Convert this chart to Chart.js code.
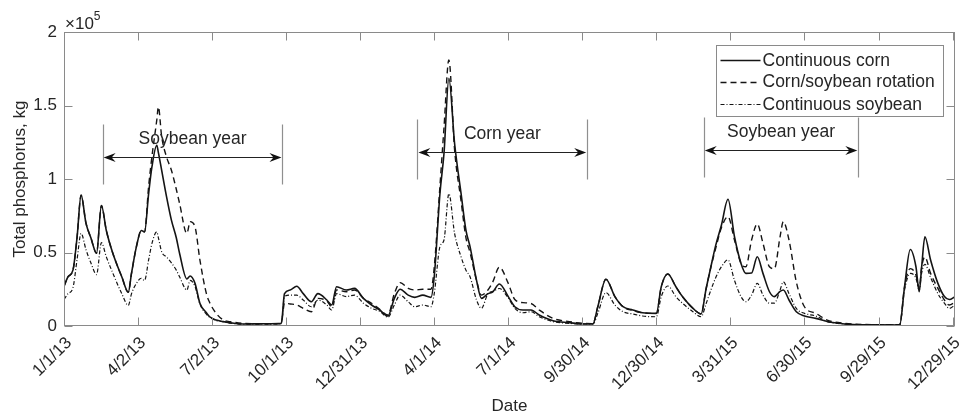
<!DOCTYPE html>
<html><head><meta charset="utf-8">
<script src="https://cdn.jsdelivr.net/npm/chart.js@4.4.1/dist/chart.umd.min.js"></script>
<style>html,body{margin:0;padding:0;background:#fff}</style>
</head><body>
<canvas id="c" width="959" height="420"></canvas>
<script>
// Days since 1/1/2013
const days = [0,5,11,16,21,27,33,40,46,52,60,71,79,83,89,95,99,104,108,114,116,120,126,132,138,142,151,155,161,167,175,179,187,196,204,220,249,267,271,278,286,294,304,312,323,329,335,347,357,368,378,388,398,406,413,423,431,441,451,455,462,467,473,480,488,494,499,507,513,521,527,535,546,554,564,574,584,601,621,638,650,656,666,677,687,699,711,728,734,742,752,760,773,783,789,795,801,808,816,824,832,838,845,852,859,867,873,880,884,891,900,910,924,938,959,984,1027,1033,1040,1047,1051,1054,1058,1065,1074,1082,1088,1095];
// Total phosphorus, kg
const continuousCorn = [27000,33500,38000,60000,89000,70000,60000,49500,82000,65000,49500,33500,23000,36000,54000,65000,64000,90000,108000,123000,118000,106000,88000,72000,60000,49500,32000,34000,29000,15500,9000,6300,4000,3000,2200,1400,1500,1800,22000,24500,27000,22000,16500,22000,17700,14300,26700,24500,25600,18800,14300,10900,6800,18800,25000,21000,19500,21000,19500,33500,90000,117500,168500,124300,90000,65000,54000,31000,18800,22000,23300,28600,20000,13100,10900,10900,7500,3600,2300,1400,1400,13100,31800,20000,13100,10900,9000,8600,26700,35400,26700,20000,12000,8200,25000,40300,55000,68700,86200,60700,42600,35800,36000,47100,35800,23300,20000,23500,24500,17700,9700,6800,5200,3000,1400,800,700,26700,52000,40300,23300,40000,60700,44900,29000,20000,18000,20000];
const cornSoybeanRotation = [27000,33500,38000,60000,89000,70000,60000,49500,82000,65000,49500,33500,23000,36000,54000,65000,64000,95000,115000,140000,149000,129000,115000,106000,93000,83500,63000,71000,67500,45000,22000,16000,8600,4000,3000,1800,1500,1800,15500,15000,14300,12000,9700,18800,17000,13100,24500,23300,24500,18800,15500,11300,7500,22000,29500,25600,24500,25000,25000,40000,95000,135000,181000,120000,85000,60000,50000,31000,21000,24500,30000,40000,29000,18000,15900,15300,10900,5200,3000,1800,1600,13100,31800,20000,13100,10500,9000,8600,26700,35400,26700,20000,12000,8200,25000,40000,53000,67000,74400,58500,42600,40300,58500,69400,56300,40300,39000,60700,71000,58500,30000,13100,8600,4000,1800,1000,800,26700,39000,34700,25600,40000,47000,35800,25600,17700,14300,16300];
const continuousSoybean = [18000,22000,26000,45000,63000,52000,43000,35000,56700,47000,36000,22000,14000,22000,29000,32500,31000,45000,56000,64000,60000,50500,47000,43000,38000,33500,24500,31000,27000,15000,8000,6000,3800,2800,2000,1200,1300,1600,20000,21000,21000,17700,13100,17700,14300,10900,22000,20000,21000,15500,12000,10000,6000,14300,21000,16500,13100,14300,13100,22000,54000,58500,90000,63000,47000,38000,33500,17700,12000,22000,23500,25500,19000,12000,9000,9700,6300,3000,1800,1400,1400,8600,22700,14300,9700,8200,6800,6300,20000,27200,20000,15500,9700,6300,15000,24500,33000,40300,45000,31000,20000,16500,21000,29000,21000,15500,15500,24500,30000,22000,12000,8600,6800,3000,1400,800,700,24500,35800,32500,24500,36000,42000,33000,22000,15500,12000,14300];

const seriesNames = ['Continuous corn', 'Corn/soybean rotation', 'Continuous soybean'];
const tickDays = [0,91,182,273,364,455,546,637,728,819,910,1001,1092];
const tickLabels = ['1/1/13','4/2/13','7/2/13','10/1/13','12/31/13','4/1/14','7/1/14','9/30/14','12/30/14','3/31/15','6/30/15','9/29/15','12/29/15'];
const yTickValues = [0,50000,100000,150000,200000];

// Crop-year brackets (start day, end day, arrow level in kg)
const periodLabels = ['Soybean year', 'Corn year', 'Soybean year'];
const periodStart = [47.5, 434.3, 786.2];
const periodEnd = [268.5, 643, 976.2];
const periodLevel = [115300, 118600, 119700];

const FONT = '"Liberation Sans", Arial, Helvetica, sans-serif';
const TXT = '#262626';
const AX = '#8a8a8a';
const LINE = '#141414';
const dashes = [[], [6, 4], [4, 2, 1, 2]];
const widths = [1.6, 1.4, 1.2];

function pts(vals) { return days.map((d, i) => ({x: d, y: vals[i]})); }

const decor = {
  id: 'decor',
  afterDatasetsDraw(chart) {
    const {ctx, chartArea: a, scales: {x, y}} = chart;
    ctx.save();
    // axes box
    ctx.strokeStyle = AX; ctx.lineWidth = 1;
    const L = Math.round(a.left) + 0.5, R = Math.round(a.right) - 0.5;
    const T = Math.round(a.top) + 0.5, B = Math.round(a.bottom) - 0.5;
    ctx.strokeRect(L, T, R - L, B - T);
    // inward ticks
    const tl = 8;
    ctx.beginPath();
    tickDays.forEach(d => {
      const px = Math.round(x.getPixelForValue(d)) + 0.5;
      ctx.moveTo(px, B); ctx.lineTo(px, B - tl);
      ctx.moveTo(px, T); ctx.lineTo(px, T + tl);
    });
    yTickValues.forEach(v => {
      const py = Math.round(y.getPixelForValue(v)) + 0.5;
      ctx.moveTo(L, py); ctx.lineTo(L + tl, py);
      ctx.moveTo(R, py); ctx.lineTo(R - tl, py);
    });
    ctx.stroke();

    // exponent label
    ctx.fillStyle = TXT;
    ctx.textAlign = 'left'; ctx.textBaseline = 'alphabetic';
    ctx.font = '17px ' + FONT;
    ctx.fillText('\u00d710', a.left + 1, a.top - 3);
    const w10 = ctx.measureText('\u00d710').width;
    ctx.font = '12px ' + FONT;
    ctx.fillText('5', a.left + 1 + w10, a.top - 12);

    // crop-year brackets
    periodLabels.forEach((lab, i) => {
      const xl = x.getPixelForValue(periodStart[i]);
      const xr = x.getPixelForValue(periodEnd[i]);
      const ya = Math.round(y.getPixelForValue(periodLevel[i])) + 0.5;
      ctx.strokeStyle = '#8f8f8f'; ctx.lineWidth = 1.2;
      ctx.beginPath();
      ctx.moveTo(Math.round(xl) + 0.5, ya - 33); ctx.lineTo(Math.round(xl) + 0.5, ya + 27);
      ctx.moveTo(Math.round(xr) + 0.5, ya - 33); ctx.lineTo(Math.round(xr) + 0.5, ya + 27);
      ctx.stroke();
      ctx.strokeStyle = '#222'; ctx.lineWidth = 1;
      ctx.beginPath(); ctx.moveTo(xl + 4, ya); ctx.lineTo(xr - 4, ya); ctx.stroke();
      ctx.fillStyle = '#111';
      [[xl, 1], [xr, -1]].forEach(([tx, dir]) => {
        ctx.beginPath();
        ctx.moveTo(tx + dir * 1, ya);
        ctx.lineTo(tx + dir * 13, ya - 4.5);
        ctx.lineTo(tx + dir * 9, ya);
        ctx.lineTo(tx + dir * 13, ya + 4.5);
        ctx.closePath(); ctx.fill();
      });
      ctx.fillStyle = TXT;
      ctx.font = '17.5px ' + FONT;
      ctx.textAlign = 'center'; ctx.textBaseline = 'alphabetic';
      ctx.fillText(lab, (xl + xr) / 2, ya - 14);
    });

    // legend
    const lw = 227, lh = 71;
    const lx = Math.round(a.right - 12 - lw) + 0.5, ly = Math.round(a.top + 13) + 0.5;
    ctx.fillStyle = '#fff'; ctx.fillRect(lx, ly, lw, lh);
    ctx.strokeStyle = AX; ctx.lineWidth = 1; ctx.strokeRect(lx, ly, lw, lh);
    const rows = [14.3, 36, 58.5];
    seriesNames.forEach((nm, i) => {
      const ry = ly + rows[i];
      ctx.strokeStyle = LINE; ctx.lineWidth = widths[i];
      ctx.setLineDash(dashes[i]);
      ctx.beginPath(); ctx.moveTo(lx + 4, Math.round(ry) + 0.5); ctx.lineTo(lx + 44, Math.round(ry) + 0.5); ctx.stroke();
      ctx.setLineDash([]);
      ctx.fillStyle = TXT; ctx.font = '17.5px ' + FONT;
      ctx.textAlign = 'left'; ctx.textBaseline = 'middle';
      ctx.fillText(nm, lx + 46, ry + 1);
    });
    ctx.restore();
  }
};

new Chart(document.getElementById('c'), {
  type: 'line',
  data: {
    datasets: [continuousCorn, cornSoybeanRotation, continuousSoybean].map((vals, i) => ({
      label: seriesNames[i],
      data: pts(vals),
      borderColor: LINE,
      borderWidth: widths[i],
      borderDash: dashes[i],
      pointRadius: 0,
      fill: false,
      cubicInterpolationMode: 'monotone'
    }))
  },
  options: {
    responsive: false,
    animation: false,
    devicePixelRatio: 1,
    layout: {padding: {top: 32, right: 4, left: 0, bottom: 0}},
    plugins: {legend: {display: false}, tooltip: {enabled: false}},
    scales: {
      x: {
        type: 'linear', min: 0, max: 1095,
        afterBuildTicks: s => { s.ticks = tickDays.map(v => ({value: v})); },
        afterFit: s => { s.height = 94; s.paddingLeft = 0; s.paddingRight = 0; },
        grid: {display: false, drawTicks: false},
        border: {display: false},
        ticks: {
          autoSkip: false, minRotation: 45, maxRotation: 45, padding: 7, labelOffset: 5,
          color: TXT, font: {family: FONT, size: 17},
          callback: v => { const k = tickDays.indexOf(v); return k >= 0 ? tickLabels[k] : ''; }
        },
        title: {display: true, text: 'Date', color: TXT, font: {family: FONT, size: 17}, padding: {top: 0, bottom: 3}}
      },
      y: {
        type: 'linear', min: 0, max: 200000,
        afterBuildTicks: s => { s.ticks = yTickValues.map(v => ({value: v})); },
        afterFit: s => { s.width = 64; s.paddingTop = 0; s.paddingBottom = 0; },
        grid: {display: false, drawTicks: false},
        border: {display: false},
        ticks: {
          padding: 7, color: TXT, font: {family: FONT, size: 17},
          callback: v => String(v / 100000)
        },
        title: {display: true, text: 'Total phosphorus, kg', color: TXT, font: {family: FONT, size: 17}, padding: {top: 10, bottom: 0}}
      }
    }
  },
  plugins: [decor]
});
</script>
</body></html>
